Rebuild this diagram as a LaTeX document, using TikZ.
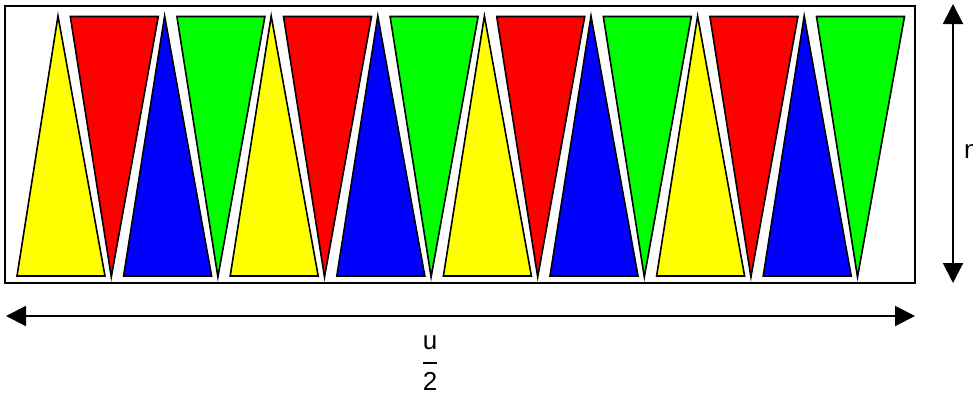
\documentclass[tikz,border=0pt]{standalone}
\usepackage{fontspec}
\setmainfont{Liberation Sans}
\usetikzlibrary{arrows.meta}
\definecolor{tyel}{RGB}{255,255,0}
\definecolor{tred}{RGB}{255,0,0}
\definecolor{tblu}{RGB}{0,0,255}
\definecolor{tgrn}{RGB}{0,255,0}
\tikzset{
  tri/.style={draw=black, line width=1.6pt, line join=miter},
  frame/.style={draw=black, line width=1.5pt},
  dimarrow/.style={line width=2pt, {Triangle[length=20pt,width=20pt]}-{Triangle[length=20pt,width=20pt]}},
  lbl/.style={font=\fontsize{26pt}{28pt}\selectfont, inner sep=0pt}
}
\begin{document}
\begin{tikzpicture}[x=1pt,y=-1pt]
\useasboundingbox (0,0) rectangle (973,394);
\draw[frame] (5,6) rectangle (915,283);
\foreach \j/\c in {0/tyel,1/tred,2/tblu,3/tgrn,4/tyel,5/tred,6/tblu,7/tgrn,8/tyel,9/tred,10/tblu,11/tgrn,12/tyel,13/tred,14/tblu,15/tgrn}{
  \pgfmathsetmacro{\L}{17+53.3*\j}
  \pgfmathsetmacro{\R}{\L+88}
  \pgfmathsetmacro{\A}{\L+41}
  \ifodd\j
    \draw[tri, fill=\c] (\L,16.5) -- (\R,16.5) -- (\A,277) -- cycle;
  \else
    \draw[tri, fill=\c] (\L,276) -- (\R,276) -- (\A,16) -- cycle;
  \fi
}
\coordinate (hl) at (6,316);
\coordinate (hr) at (915,316);
\draw[dimarrow] (hl) -- (hr);
\coordinate (vt) at (953,4);
\coordinate (vb) at (953,283);
\draw[dimarrow] (vt) -- (vb);
\node[lbl, anchor=west] (n) at (964,152) {n};
\node[lbl] (num) at (430,343) {u};
\draw[line width=2.2pt] (423,363) -- (437,363);
\node[lbl] (den) at (430,381) {2};
\end{tikzpicture}
\end{document}
